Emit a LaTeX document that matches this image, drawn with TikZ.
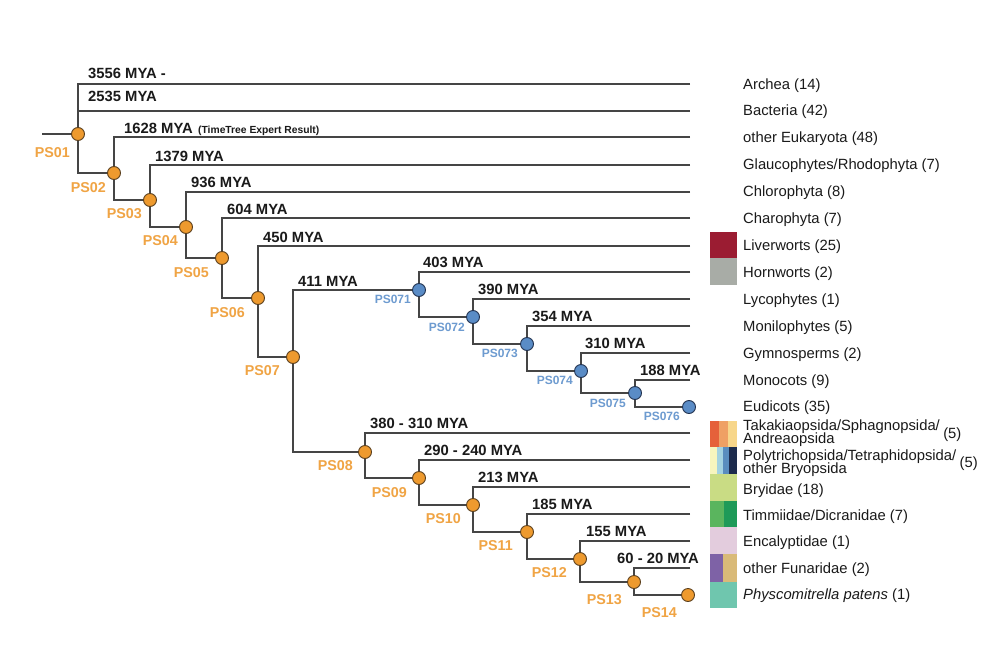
\documentclass[tikz,border=0pt]{standalone}
\usepackage{fontspec}
\setmainfont{Liberation Sans}
\usetikzlibrary{calc}
\definecolor{linegray}{HTML}{454545}
\definecolor{txt}{HTML}{1A1A1A}
\definecolor{orfill}{HTML}{EE9A2E}
\definecolor{ordraw}{HTML}{5A3F1E}
\definecolor{ortxt}{HTML}{F0A444}
\definecolor{blfill}{HTML}{5A8CC6}
\definecolor{bldraw}{HTML}{22324F}
\definecolor{bltxt}{HTML}{6D9BD0}
\definecolor{cLiv}{HTML}{9B1C32}
\definecolor{cHorn}{HTML}{A8ACA6}
\definecolor{cTa}{HTML}{E5613A}
\definecolor{cTb}{HTML}{EFA064}
\definecolor{cTc}{HTML}{F7D68A}
\definecolor{cPa}{HTML}{F7F5BE}
\definecolor{cPb}{HTML}{A4D2E0}
\definecolor{cPc}{HTML}{5A8DBE}
\definecolor{cPd}{HTML}{1D2B4D}
\definecolor{cBry}{HTML}{C9DC84}
\definecolor{cTia}{HTML}{5AB55E}
\definecolor{cTib}{HTML}{1E9A58}
\definecolor{cEnc}{HTML}{E3CCDD}
\definecolor{cFa}{HTML}{7E62A6}
\definecolor{cFb}{HTML}{D9BA78}
\definecolor{cPhy}{HTML}{6FC6AE}
\begin{document}
\begin{tikzpicture}[x=1pt,y=-1pt,
  br/.style={draw=linegray, line width=1.8pt},
  onode/.style={circle, fill=orfill, draw=ordraw, line width=0.9pt, minimum size=13pt, inner sep=0pt},
  bnode/.style={circle, fill=blfill, draw=bldraw, line width=0.9pt, minimum size=13pt, inner sep=0pt},
  mya/.style={font=\bfseries\fontsize{14.8}{16}\selectfont, text=txt, inner sep=0pt, anchor=base west},
  ops/.style={font=\bfseries\fontsize{14.3}{16}\selectfont, text=ortxt, inner sep=0pt, anchor=base east},
  bps/.style={font=\bfseries\fontsize{12}{14}\selectfont, text=bltxt, inner sep=0pt, anchor=base east},
  taxon/.style={font=\fontsize{14.8}{13}\selectfont, text=txt, inner sep=0pt, anchor=base west}]
\useasboundingbox[fill=white] (0,0) rectangle (1000,666);

% node positions
\coordinate (root) at (42,134);
\coordinate (c01) at (78,134);
\coordinate (c02) at (114,173);
\coordinate (c03) at (150,200);
\coordinate (c04) at (186,227);
\coordinate (c05) at (222,258);
\coordinate (c06) at (258,298);
\coordinate (c07) at (293,357);
\coordinate (c071) at (419,290);
\coordinate (c072) at (473,317);
\coordinate (c073) at (527,344);
\coordinate (c074) at (581,371);
\coordinate (c075) at (635,393);
\coordinate (c076) at (689,407);
\coordinate (c08) at (365,452);
\coordinate (c09) at (419,478);
\coordinate (c10) at (473,505);
\coordinate (c11) at (527,532);
\coordinate (c12) at (580,559);
\coordinate (c13) at (634,582);
\coordinate (c14) at (688,595);
% leaf ends
\coordinate (lArch) at (690,84);
\coordinate (lBact) at (690,111);
\coordinate (lEuk) at (690,137);
\coordinate (lGla) at (690,165);
\coordinate (lChl) at (690,192);
\coordinate (lCha) at (690,218);
\coordinate (lLiv) at (690,246);
\coordinate (lHorn) at (690,272);
\coordinate (lLyc) at (690,299);
\coordinate (lMon) at (690,326);
\coordinate (lGym) at (690,353);
\coordinate (lMoc) at (690,380);
\coordinate (lTak) at (690,433);
\coordinate (lPol) at (690,460);
\coordinate (lBry) at (690,487);
\coordinate (lTim) at (690,514);
\coordinate (lEnc) at (690,541);
\coordinate (lFun) at (690,568);

% branches
\draw[br] (root) -- (c01);
\draw[br] (lArch) -| (c01) |- (c02);
\draw[br] (c01 |- lBact) -- (lBact);
\draw[br] (lEuk) -| (c02) |- (c03);
\draw[br] (lGla) -| (c03) |- (c04);
\draw[br] (lChl) -| (c04) |- (c05);
\draw[br] (lCha) -| (c05) |- (c06);
\draw[br] (lLiv) -| (c06) |- (c07);
\draw[br] (c071) -| (c07) |- (c08);
\draw[br] (lHorn) -| (c071) |- (c072);
\draw[br] (lLyc) -| (c072) |- (c073);
\draw[br] (lMon) -| (c073) |- (c074);
\draw[br] (lGym) -| (c074) |- (c075);
\draw[br] (lMoc) -| (c075) |- (c076);
\draw[br] (lTak) -| (c08) |- (c09);
\draw[br] (lPol) -| (c09) |- (c10);
\draw[br] (lBry) -| (c10) |- (c11);
\draw[br] (lTim) -| (c11) |- (c12);
\draw[br] (lEnc) -| (c12) |- (c13);
\draw[br] (lFun) -| (c13) |- (c14);

% circles
\foreach \n in {01,02,03,04,05,06,07,08,09,10,11,12,13,14}
  \node[onode] (n\n) at (c\n) {};
\foreach \n in {071,072,073,074,075,076}
  \node[bnode] (n\n) at (c\n) {};

% MYA labels
\node[mya] (m3556) at (88,79) {3556 MYA -};
\node[mya] (m2535) at (88,102) {2535 MYA};
\node[mya] (m1628) at (124,133) {1628 MYA};
\node[font=\bfseries\fontsize{10.3}{12}\selectfont, text=txt, inner sep=0pt, anchor=base west] (tt) at (198,133) {(TimeTree Expert Result)};
\node[mya] (m1379) at (155,161) {1379 MYA};
\node[mya] (m936) at (191,187) {936 MYA};
\node[mya] (m604) at (227,214) {604 MYA};
\node[mya] (m450) at (263,242) {450 MYA};
\node[mya] (m411) at (298,286) {411 MYA};
\node[mya] (m403) at (423,267) {403 MYA};
\node[mya] (m390) at (478,294) {390 MYA};
\node[mya] (m354) at (532,321) {354 MYA};
\node[mya] (m310) at (585,348) {310 MYA};
\node[mya] (m188) at (640,375) {188 MYA};
\node[mya] (m380) at (370,428) {380 - 310 MYA};
\node[mya] (m290) at (424,455) {290 - 240 MYA};
\node[mya] (m213) at (478,482) {213 MYA};
\node[mya] (m185) at (532,509) {185 MYA};
\node[mya] (m155) at (586,536) {155 MYA};
\node[mya] (m60) at (617,563) {60 - 20 MYA};

% PS labels
\node[ops] (t01) at (70,157) {PS01};
\node[ops] (t02) at (106,192) {PS02};
\node[ops] (t03) at (142,218) {PS03};
\node[ops] (t04) at (178,245) {PS04};
\node[ops] (t05) at (209,277) {PS05};
\node[ops] (t06) at (245,317) {PS06};
\node[ops] (t07) at (280,375) {PS07};
\node[ops] (t08) at (353,470) {PS08};
\node[ops] (t09) at (407,497) {PS09};
\node[ops] (t10) at (461,523) {PS10};
\node[ops] (t11) at (513,550) {PS11};
\node[ops] (t12) at (567,577) {PS12};
\node[ops] (t13) at (622,604) {PS13};
\node[ops] (t14) at (677,617) {PS14};
\node[bps] (t071) at (411,303) {PS071};
\node[bps] (t072) at (465,331) {PS072};
\node[bps] (t073) at (518,357) {PS073};
\node[bps] (t074) at (573,384) {PS074};
\node[bps] (t075) at (626,407) {PS075};
\node[bps] (t076) at (680,420) {PS076};

% colour boxes
\fill[cLiv] (710,232) rectangle (737,258);
\fill[cHorn] (710,258) rectangle (737,285);
\fill[cTa] (710,421) rectangle (719.3,447);
\fill[cTb] (719.3,421) rectangle (728.3,447);
\fill[cTc] (728.3,421) rectangle (737,447);
\fill[cPa] (710,447) rectangle (716.7,474);
\fill[cPb] (716.7,447) rectangle (723.3,474);
\fill[cPc] (723.3,447) rectangle (729.3,474);
\fill[cPd] (729.3,447) rectangle (737,474);
\fill[cBry] (710,474) rectangle (737,501);
\fill[cTia] (710,501) rectangle (724,527);
\fill[cTib] (724,501) rectangle (737,527);
\fill[cEnc] (710,527) rectangle (737,554);
\fill[cFa] (710,554) rectangle (723.3,582);
\fill[cFb] (723.3,554) rectangle (737,582);
\fill[cPhy] (710,582) rectangle (737,608);

% taxa
\node[taxon] (x1) at (743,89.5) {Archea (14)};
\node[taxon] (x2) at (743,115.5) {Bacteria (42)};
\node[taxon] (x3) at (743,142.5) {other Eukaryota (48)};
\node[taxon] (x4) at (743,169.5) {Glaucophytes/Rhodophyta (7)};
\node[taxon] (x5) at (743,196.5) {Chlorophyta (8)};
\node[taxon] (x6) at (743,223.5) {Charophyta (7)};
\node[taxon] (x7) at (743,250.5) {Liverworts (25)};
\node[taxon] (x8) at (743,277.5) {Hornworts (2)};
\node[taxon] (x9) at (743,304.5) {Lycophytes (1)};
\node[taxon] (x10) at (743,331.5) {Monilophytes (5)};
\node[taxon] (x11) at (743,358.5) {Gymnosperms (2)};
\node[taxon] (x12) at (743,385.5) {Monocots (9)};
\node[taxon] (x13) at (743,411.5) {Eudicots (35)};
\node[taxon] (x14a) at (743,430.5) {Takakiaopsida/Sphagnopsida/};
\node[taxon] (x14b) at (743,443.5) {Andreaopsida};
\node[taxon] (x14c) at ($(x14a.base east)+(3,8)$) {(5)};
\node[taxon] (x15a) at (743,460.5) {Polytrichopsida/Tetraphidopsida/};
\node[taxon] (x15b) at (743,473.5) {other Bryopsida};
\node[taxon] (x15c) at ($(x15a.base east)+(3,7)$) {(5)};
\node[taxon] (x16) at (743,494) {Bryidae (18)};
\node[taxon] (x17) at (743,520.5) {Timmiidae/Dicranidae (7)};
\node[taxon] (x18) at (743,546.5) {Encalyptidae (1)};
\node[taxon] (x19) at (743,573) {other Funaridae (2)};
\node[taxon] (x20) at (743,599.5) {\itshape Physcomitrella patens\upshape{} (1)};
\end{tikzpicture}
\end{document}
